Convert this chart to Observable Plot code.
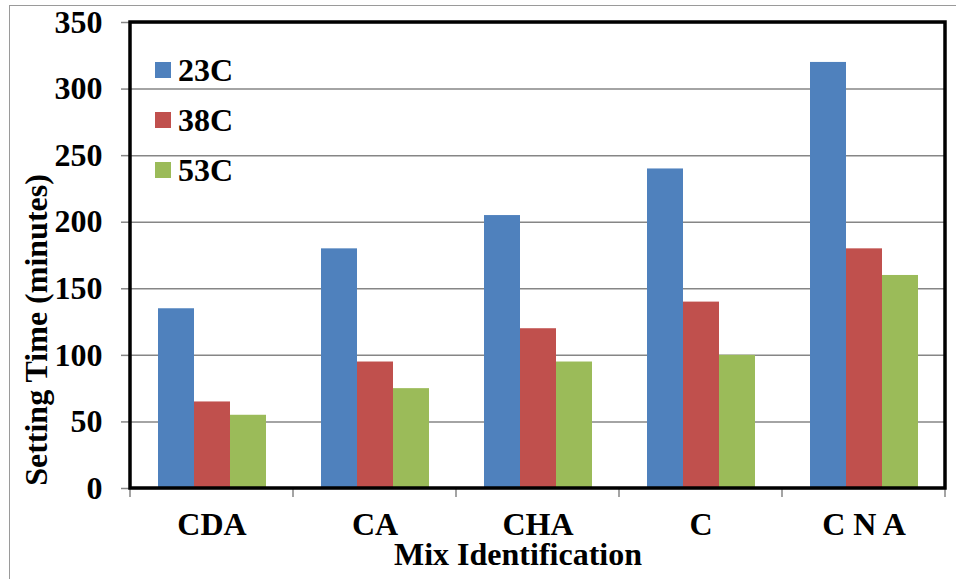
<!DOCTYPE html>
<html><head><meta charset="utf-8">
<script src="https://cdn.jsdelivr.net/npm/d3@7"></script>
<script src="https://cdn.jsdelivr.net/npm/@observablehq/plot@0.6"></script>
<style>
body{margin:0;background:#fff}
#chart{position:relative;width:956px;height:579px;overflow:hidden}
#border{position:absolute;left:9px;top:5px;width:960px;height:600px;border:1.5px solid #9a9a9a;box-sizing:border-box;pointer-events:none}
</style>
</head><body><div id="chart"><div id="border"></div></div>
<script>
const categories = ["CDA", "CA", "CHA", "C", "C N A"];
const series = ["23C", "38C", "53C"];
const values23C = [135, 180, 205, 240, 320];
const values38C = [65, 95, 120, 140, 180];
const values53C = [55, 75, 95, 100, 160];
const yTicks = [0, 50, 100, 150, 200, 250, 300, 350];
const colors = ["#4F81BD", "#C0504D", "#9BBB59"];
const xTitle = "Mix Identification";
const yTitle = "Setting Time (minutes)";

const data = [];
[values23C, values38C, values53C].forEach((vals, s) =>
  vals.forEach((v, i) => data.push({category: categories[i], series: series[s], value: v})));

const font = "'Liberation Serif', 'Times New Roman', serif";

const plot = Plot.plot({
  width: 956, height: 579,
  marginLeft: 130, marginRight: 11, marginTop: 22, marginBottom: 91,
  style: {fontFamily: font, fontWeight: "bold", fontSize: "32px", color: "#000", background: "transparent", overflow: "visible"},
  fx: {domain: categories, padding: 0, label: null, axis: null},
  x: {domain: series, paddingInner: 0, paddingOuter: 0.76, axis: null},
  y: {domain: [0, 350], label: null},
  color: {domain: series, range: colors},
  marks: [
    Plot.gridY(yTicks, {stroke: "#868686", strokeOpacity: 1, strokeWidth: 1.5}),
    Plot.barY(data, {fx: "category", x: "series", y: "value", fill: "series"}),
    Plot.axisY(yTicks, {tickSize: 9, tickPadding: 19, stroke: "#868686", strokeWidth: 1.5, fill: "#000", fontSize: 32, fontWeight: "bold", label: null}),
    Plot.axisFx({anchor: "bottom", tickSize: 0, tickPadding: 24, fill: "#000", fontSize: 32, fontWeight: "bold", label: null})
  ]
});

document.getElementById("chart").appendChild(plot);
plot.style.position = "absolute";
plot.style.left = "0px";
plot.style.top = "0px";

const svg = d3.select(plot);
const fx = plot.scale("fx");
const y = plot.scale("y");
const yBase = y.apply(0), yTop = y.apply(350);
const xLeft = fx.apply(categories[0]);
const xRight = fx.apply(categories[categories.length - 1]) + fx.bandwidth;

// category boundary ticks
const edges = categories.map(c => fx.apply(c)).concat([xRight]);
svg.append("g").selectAll("line").data(edges).join("line")
  .attr("x1", d => d).attr("x2", d => d)
  .attr("y1", yBase).attr("y2", yBase + 9)
  .attr("stroke", "#868686").attr("stroke-width", 1.5);

// frame
svg.append("rect")
  .attr("x", xLeft).attr("y", yTop)
  .attr("width", xRight - xLeft).attr("height", yBase - yTop)
  .attr("fill", "none").attr("stroke", "#000").attr("stroke-width", 3.5);

// legend
const leg = svg.append("g").attr("font-family", font).attr("font-weight", "bold").attr("font-size", 32).attr("text-anchor", "start");
series.forEach((s, i) => {
  const cy = 70 + i * 50;
  leg.append("rect").attr("x", 155).attr("y", cy - 8).attr("width", 16).attr("height", 16).attr("fill", colors[i]);
  leg.append("text").attr("x", 178).attr("y", cy).attr("dy", "0.35em").attr("fill", "#000").text(s);
});

// axis titles
svg.append("text").attr("x", 518).attr("y", 565)
  .attr("text-anchor", "middle").attr("font-family", font).attr("font-weight", "bold").attr("font-size", 32)
  .attr("fill", "#000").text(xTitle);
svg.append("text").attr("transform", "translate(47,330) rotate(-90)")
  .attr("text-anchor", "middle").attr("font-family", font).attr("font-weight", "bold").attr("font-size", 32)
  .attr("fill", "#000").text(yTitle);
</script>
</body></html>
